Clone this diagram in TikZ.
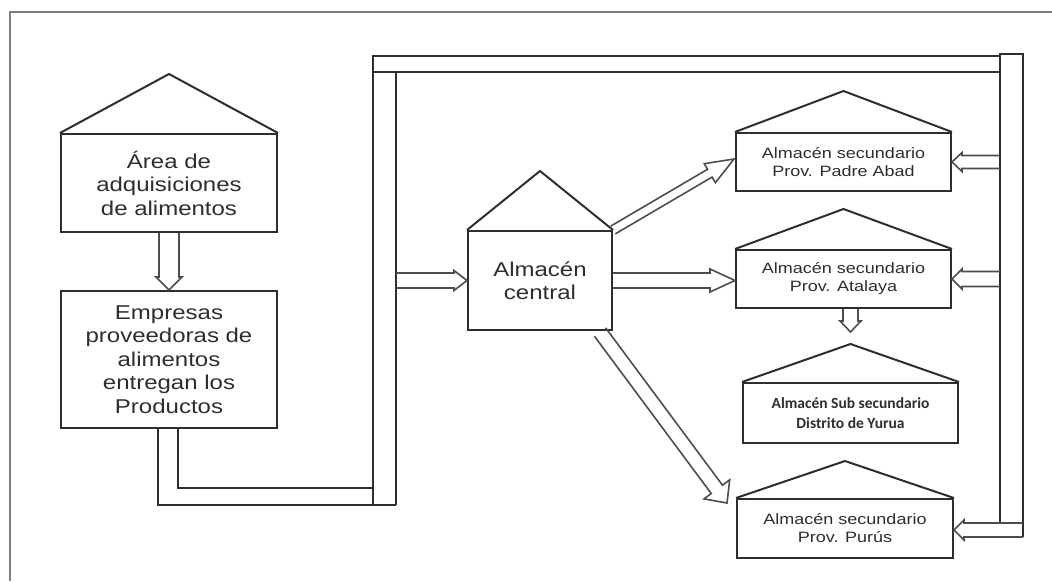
\documentclass[tikz,border=0pt]{standalone}
\usepackage{fontspec}
\setmainfont{Liberation Sans}
\newfontfamily\bigf[FakeStretch=1.2]{Liberation Sans}
\newfontfamily\smallf[FakeStretch=1.2]{Liberation Sans}
\newfontfamily\calf{Carlito}
\usetikzlibrary{calc}
\definecolor{ink}{HTML}{2E2E2E}
\definecolor{framec}{HTML}{808080}
\tikzset{
 boxline/.style={draw=ink, line width=2pt, line join=miter},
 house/.style={boxline, fill=white, inner sep=0pt, align=center, text=ink},
 bigbox/.style={house, font=\bigf\fontsize{20}{23.5}\selectfont},
 smallbox/.style={house, font=\smallf\fontsize{15}{18}\selectfont},
 subbox/.style={house, font=\calf\bfseries\fontsize{15.5}{20}\selectfont},
 pipe/.style={draw=ink, line width=1.8pt},
 arrowline/.style={draw=ink!85, line width=1.6pt, line join=miter},
}
% block arrow: from, to, shaft half width, head half width, head length
\newcommand\barrow[5]{%
  \path ($(#2)!#5!(#1)$) coordinate (bh);
  \draw[arrowline] ($(#1)!#3!90:(#2)$) -- ($(bh)!#3!-90:(#1)$) -- ($(bh)!#4!-90:(#1)$)
     -- (#2) -- ($(bh)!#4!90:(#1)$) -- ($(bh)!#3!90:(#1)$) -- ($(#1)!#3!-90:(#2)$);}
\newcommand\roof[2]{%
  \draw[boxline] (#1.north west) -- ($(#1.north)+(0,-#2)$) -- (#1.north east);}
\begin{document}
\begin{tikzpicture}[x=1pt,y=-1pt]
\useasboundingbox (0,0) rectangle (1052,581);
% frame
\draw[framec, line width=2pt] (10,581) -- (10,12) -- (1052,12);

% houses
\node[bigbox, minimum width=216pt, minimum height=98pt] (A) at (169,183) {Área de\\adquisiciones\\de alimentos};
\roof{A}{59}
\node[bigbox, minimum width=216pt, minimum height=137pt] (B) at (169,359.5) {Empresas\\proveedoras de\\alimentos\\entregan los\\Productos};
\node[bigbox, minimum width=144pt, minimum height=99pt] (C) at (540,280.5) {Almacén\\central};
\roof{C}{59}
\node[smallbox, minimum width=215pt, minimum height=58pt] (P) at (843.5,162) {Almacén secundario\\Prov. Padre Abad};
\roof{P}{41}
\node[smallbox, minimum width=215pt, minimum height=58pt] (T) at (843.5,279) {Almacén secundario\\Prov. Atalaya};
\roof{T}{40}
\node[subbox, minimum width=215pt, minimum height=60pt] (S) at (850.5,413) {Almacén Sub secundario\\Distrito de Yurua};
\roof{S}{38}
\node[smallbox, minimum width=216pt, minimum height=59pt] (U) at (845,528.5) {Almacén secundario\\Prov. Purús};
\roof{U}{37}

% pipes
\coordinate (vR) at (396,0);
\coordinate (rL) at (1000,0);
\coordinate (rR) at (1023,0);
\draw[pipe] ($(B.south)+(-11,0)$) -- (158,505) -- (396,505);
\draw[pipe] ($(B.south)+(9,0)$) -- (178,488) -- (373,488);
\draw[pipe] (373,505) -- (373,56) -- (1000,56);
\draw[pipe] (396,505) -- (396,72);
\draw[pipe] (373,72) -- (1000,72);
\draw[pipe] (1000,523) -- (1000,54) -- (1023,54) -- (1023,537);

% arrows
\barrow{A.south}{B.north}{10pt}{13pt}{13pt}
\coordinate (cIn) at (C.west -| vR);
\barrow{cIn}{C.west}{7.5pt}{10pt}{13pt}
\coordinate (tIn) at (T.west |- C.east);
\barrow{C.east}{tIn}{7.5pt}{11.5pt}{25pt}
\coordinate (pTip) at ($(P.west)+(-1,-3)$);
\barrow{C.north east}{pTip}{4.5pt}{11pt}{28pt}
\coordinate (uStart) at ($(C.south east)+(-13,1)$);
\coordinate (uTip) at ($(U.north west)+(-9,5)$);
\barrow{uStart}{uTip}{7pt}{16pt}{17pt}
\coordinate (sStart) at (T.south -| S.north);
\coordinate (sTip) at ($(S.north)+(0,-50)$);
\barrow{sStart}{sTip}{7.5pt}{10.5pt}{11pt}
\coordinate (pIn) at (P.east -| rL);
\barrow{pIn}{P.east}{6.5pt}{9.5pt}{10pt}
\coordinate (tIn2) at (T.east -| rL);
\barrow{tIn2}{T.east}{7.5pt}{10pt}{10pt}
\coordinate (uIn) at (U.east -| rR);
\coordinate (uEnd) at ($(U.east)+(0,1.5)$);
\coordinate (uIn2) at ($(uIn)+(0,1.5)$);
\barrow{uIn2}{uEnd}{7pt}{10pt}{10pt}
\end{tikzpicture}
\end{document}
